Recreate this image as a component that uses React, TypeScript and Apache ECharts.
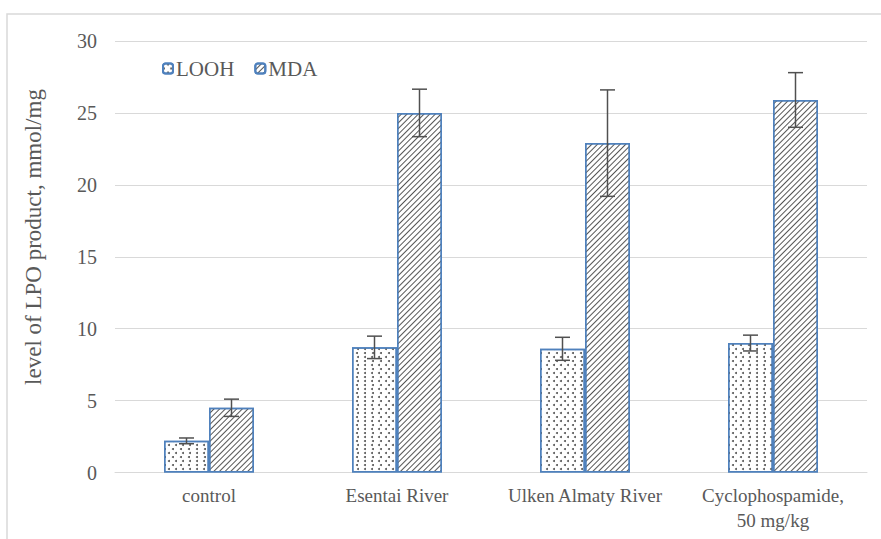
import React, { useEffect, useRef } from "react";
import * as echarts from "echarts";

const categories = ["control", "Esentai River", "Ulken Almaty River", "Cyclophospamide,\n50 mg/kg"];
const seriesNames = ["LOOH", "MDA"];
const loohValues = [2.2, 8.7, 8.6, 9.0];
const loohErrors = [0.2, 0.78, 0.8, 0.55];
const mdaValues = [4.5, 25.0, 22.9, 25.9];
const mdaErrors = [0.6, 1.65, 3.7, 1.9];
const yTicks = { min: 0, max: 30, interval: 5 };

const FONT = "Liberation Serif";
const TEXT_COLOR = "#595959";
const BORDER = "#4f81bd";
const BAR_W = 45;

function errorSeries(name: string, values: number[], errors: number[], offset: number) {
  return {
    type: "custom",
    name: name + "_err",
    z: 10,
    silent: true,
    data: values.map((v, i) => [i, v - errors[i], v + errors[i]]),
    renderItem: (params: any, api: any) => {
      const idx = api.value(0);
      const lo = api.coord([idx, api.value(1)]);
      const hi = api.coord([idx, api.value(2)]);
      const x = lo[0] + offset;
      const cap = 7.5;
      const style = { stroke: "#505050", lineWidth: 1.5 };
      return {
        type: "group",
        children: [
          { type: "line", shape: { x1: x, y1: lo[1], x2: x, y2: hi[1] }, style },
          { type: "line", shape: { x1: x - cap, y1: hi[1], x2: x + cap, y2: hi[1] }, style },
          { type: "line", shape: { x1: x - cap, y1: lo[1], x2: x + cap, y2: lo[1] }, style },
        ],
      };
    },
  };
}

export default function App() {
  const ref = useRef<HTMLDivElement>(null);
  useEffect(() => {
    if (!ref.current) return;
    const chart = echarts.init(ref.current, null, { renderer: "svg" });
    chart.setOption({
      animation: false,
      backgroundColor: "#ffffff",
      textStyle: { fontFamily: FONT },
      grid: { left: 115, right: 14, top: 41, bottom: 66.5, containLabel: false },
      legend: {
        left: 162,
        top: 58,
        itemWidth: 10,
        itemHeight: 10,
        itemGap: 20,
        padding: [0, 0, 0, 0],
        selectedMode: false,
        data: seriesNames,
        textStyle: { fontFamily: FONT, fontSize: 21, color: TEXT_COLOR, padding: [0, 0, 0, -2] },
      },
      xAxis: {
        type: "category",
        data: categories,
        axisTick: { show: false },
        axisLine: { lineStyle: { color: "#d9d9d9", width: 1 } },
        axisLabel: { fontFamily: FONT, fontSize: 19, color: TEXT_COLOR, margin: 10, lineHeight: 25, interval: 0 },
      },
      yAxis: {
        type: "value",
        min: yTicks.min,
        max: yTicks.max,
        interval: yTicks.interval,
        axisLine: { show: false },
        axisTick: { show: false },
        splitLine: { lineStyle: { color: "#d9d9d9", width: 1 } },
        axisLabel: { fontFamily: FONT, fontSize: 20, color: TEXT_COLOR, margin: 18 },
      },
      graphic: [
        {
          type: "rect",
          silent: true,
          shape: { x: 7, y: 14, width: 900, height: 600 },
          style: { fill: "none", stroke: "#d9d9d9", lineWidth: 1.5 },
        },
        {
          type: "text",
          x: 33,
          y: 237,
          rotation: Math.PI / 2,
          style: {
            text: "level of LPO product, mmol/mg",
            fontFamily: FONT,
            fontSize: 23,
            fill: TEXT_COLOR,
            align: "center",
            verticalAlign: "middle",
          },
        },
      ],
      series: [
        {
          type: "bar",
          name: seriesNames[0],
          data: loohValues,
          barWidth: BAR_W,
          barGap: "0%",
          itemStyle: {
            color: "#ffffff",
            borderColor: BORDER,
            borderWidth: 1.5,
            decal: {
              symbol: "circle",
              symbolSize: 1,
              color: "#555555",
              dashArrayX: [[1.4, 5], [0, 3.2, 1.4, 1.8]],
              dashArrayY: [1.4, 2],
            },
          },
        },
        {
          type: "bar",
          name: seriesNames[1],
          data: mdaValues,
          barWidth: BAR_W,
          barGap: "0%",
          itemStyle: {
            color: "#ffffff",
            borderColor: BORDER,
            borderWidth: 1.5,
            decal: {
              symbol: "rect",
              symbolSize: 1,
              color: "#555555",
              dashArrayX: [1, 0],
              dashArrayY: [1, 2.6],
              rotation: -Math.PI / 4,
            },
          },
        },
        errorSeries(seriesNames[0], loohValues, loohErrors, -BAR_W / 2),
        errorSeries(seriesNames[1], mdaValues, mdaErrors, BAR_W / 2),
      ],
    });
    return () => chart.dispose();
  }, []);
  return <div ref={ref} style={{ position: "fixed", left: 0, top: 0, width: 881, height: 539 }} />;
}
